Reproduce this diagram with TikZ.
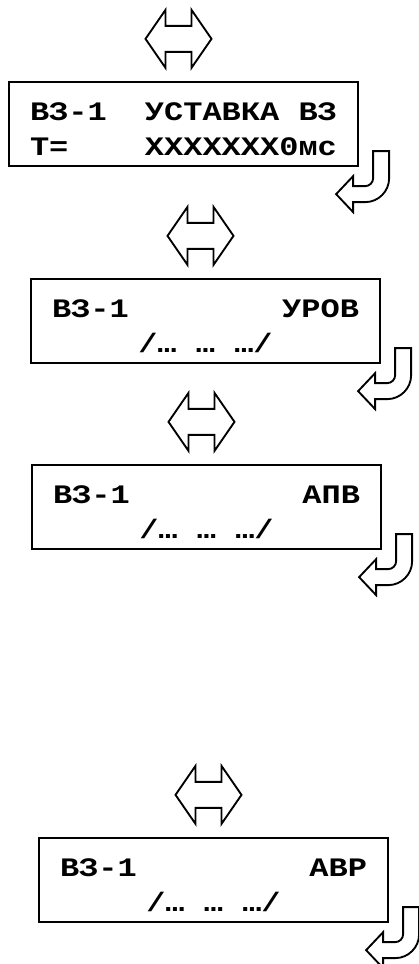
\documentclass[tikz,border=0pt]{standalone}
\usepackage{fontspec}
\newfontfamily\panelfont[FakeStretch=1.2]{Liberation Mono}
\usetikzlibrary{positioning}

% two display rows: top strut, bottom strut
\newcommand{\panelrows}[2]{\rule{0pt}{28.5pt}#1\\#2\rule[-8.25pt]{0pt}{8.25pt}}
% one blank character cell of the display
\newcommand{\cell}{\hspace{14.4pt}}

\begin{document}
\begin{tikzpicture}[
    x=0.75pt,
    y=-0.75pt
]

\tikzset{
    panel/.style={
        draw,
        line width=1.7pt,
        inner xsep=15.75pt,
        inner ysep=0pt,
        text width=230.25pt,
        minimum height=63pt,
        align=left,
        font=\panelfont\bfseries\fontsize{20}{26.25}\selectfont
    },
    outline/.style={
        draw,
        line width=1.4pt,
        line join=miter
    },
    swaparrow/.pic={
        \draw[outline] (-33,0) -- (-13,-29) -- (-13,-13) -- (13,-13)
            -- (13,-29) -- (33,0) -- (13,29) -- (13,13) -- (-13,13)
            -- (-13,29) -- cycle;
    },
    turnarrow/.pic={
        \draw[outline] (0,0) -- (0,27) arc[start angle=0,end angle=90,radius=24]
            -- (-36,51) -- (-36,61) -- (-53,43) -- (-36,25) -- (-36,35)
            -- (-24,35) arc[start angle=90,end angle=0,radius=8]
            -- (-16,0) -- cycle;
    }
}

\useasboundingbox (0,0) rectangle (418,964);

\node[panel] (setpoint) at (183.5,124)
{\panelrows{ВЗ-1\hfill УСТАВКА\cell ВЗ}{Т=\hfill XXXXXXX0мс}};

\node[panel] (urov) at (205.5,321)
{\panelrows{ВЗ-1\hfill УРОВ}{\hfill/…\cell…\cell…/\hfill}};

\node[panel] (apv) at (206.5,507)
{\panelrows{ВЗ-1\hfill АПВ}{\hfill/…\cell…\cell…/\hfill}};

\node[panel] (avr) at (213.5,880)
{\panelrows{ВЗ-1\hfill АВР}{\hfill/…\cell…\cell…/\hfill}};

% navigation marks
\foreach \p in {setpoint,urov,apv,avr}{
    \pic at ([shift={(-5,-42)}]\p.north) {swaparrow};
    \pic at ([shift={(30,-16)}]\p.south east) {turnarrow};
}

\end{tikzpicture}
\end{document}
